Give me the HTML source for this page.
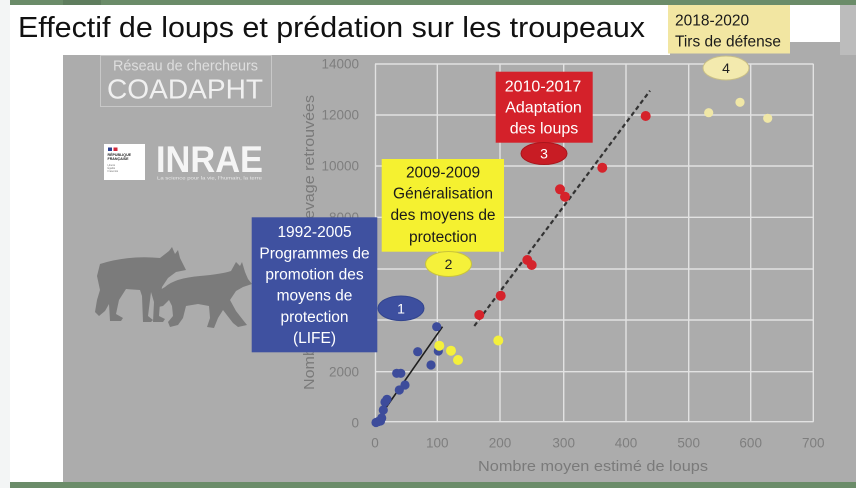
<!DOCTYPE html>
<html><head><meta charset="utf-8"><style>
html,body{margin:0;padding:0;background:#acacac;}
svg{display:block;}
text{font-family:"Liberation Sans",Arial,sans-serif;}
</style></head><body>
<svg width="856" height="488" viewBox="0 0 856 488" xmlns="http://www.w3.org/2000/svg">
<!-- backgrounds -->
<rect x="0" y="0" width="856" height="488" fill="#acacac"/>
<rect x="840" y="5" width="16" height="50" fill="#bcbcbc"/>
<rect x="0" y="0" width="10" height="488" fill="#f3f5f5"/>
<rect x="10" y="5" width="53" height="478" fill="#ffffff"/>
<rect x="10" y="5" width="660" height="50" fill="#ffffff"/>
<rect x="789" y="5" width="51" height="37" fill="#ffffff"/>
<rect x="10" y="0" width="846" height="5" fill="#6b8c69"/>
<rect x="63" y="0" width="38" height="5" fill="#5f7d5e"/>
<rect x="10" y="482" width="846" height="6" fill="#6b8c69"/>

<!-- Title -->
<text x="18" y="37" font-size="29" fill="#111" textLength="627" lengthAdjust="spacingAndGlyphs">Effectif de loups et prédation sur les troupeaux</text>

<!-- COADAPHT logo -->
<rect x="100.5" y="55.5" width="171" height="51" fill="none" stroke="#c8c8c8" stroke-width="1"/>
<text x="113" y="70.5" font-size="14.5" fill="#dedede" textLength="145" lengthAdjust="spacingAndGlyphs">Réseau de chercheurs</text>
<text x="107" y="98.3" font-size="27.5" fill="#f0f0f0" textLength="156" lengthAdjust="spacingAndGlyphs">COADAPHT</text>

<!-- INRAE logo -->
<rect x="104" y="144" width="41" height="36" fill="#ffffff"/>
<rect x="108" y="147.5" width="4" height="3.5" fill="#2b3e8f"/>
<rect x="113.5" y="147.5" width="4" height="3.5" fill="#d0283a"/>
<text x="107.5" y="156" font-size="3.6" font-weight="bold" fill="#222">RÉPUBLIQUE</text>
<text x="107.5" y="160" font-size="3.6" font-weight="bold" fill="#222">FRANÇAISE</text>
<text x="107.5" y="166" font-size="2.5" fill="#777">Liberté</text>
<text x="107.5" y="169" font-size="2.5" fill="#777">Égalité</text>
<text x="107.5" y="172" font-size="2.5" fill="#777">Fraternité</text>
<text x="156" y="172" font-size="37" font-weight="bold" fill="#f5f5f5" textLength="107" lengthAdjust="spacingAndGlyphs">INRAE</text>
<text x="157" y="179.5" font-size="4.8" fill="#e8e8e8" textLength="105" lengthAdjust="spacingAndGlyphs">La science pour la vie, l'humain, la terre</text>

<!-- wolves -->
<g fill="#7b7b7b">
<path d="M100 264 Q128 255 160 258 L169 251 L172 247 L175 254 L178 250 L180 258 L184 266 L186 270 L176 272 L168 278 L162 287 L160 302 L159 316 L165 319 L163 322 L153 322 L154 302 L151 292 L148 316 L153 320 L151 322 L143 322 L142 296 L140 290 L126 289 L119 300 L116 314 L123 318 L121 321 L110 321 L109 304 L105 311 L99 316 L95 312 L97 300 L100 290 L97 276 Z"/>
<path d="M165 287 Q175 278 200 276 Q222 274 231 271 L236 262 L240 266 L242 262 L245 272 L248 279 L252 284 L243 287 L236 291 L230 300 L236 311 L243 320 L247 325 L238 327 L233 323 L223 310 L218 318 L214 328 L207 327 L210 318 L209 306 L198 304 L186 306 L183 318 L178 325 L170 327 L168 322 L173 316 L172 306 L169 300 L163 306 L158 307 L157 298 L160 290 Z"/>
</g>

<!-- gridlines -->
<g stroke="#e2e2e2" stroke-width="1.4">
<line x1="375" y1="64" x2="813.5" y2="64"/>
<line x1="375" y1="115" x2="813.5" y2="115"/>
<line x1="375" y1="166" x2="813.5" y2="166"/>
<line x1="375" y1="217.3" x2="813.5" y2="217.3"/>
<line x1="375" y1="269" x2="813.5" y2="269"/>
<line x1="375" y1="320" x2="813.5" y2="320"/>
<line x1="375" y1="371.7" x2="813.5" y2="371.7"/>
<line x1="375" y1="421.7" x2="813.5" y2="421.7"/>
<line x1="375.5" y1="64" x2="375.5" y2="421.7"/>
<line x1="437.3" y1="64" x2="437.3" y2="421.7"/>
<line x1="500" y1="64" x2="500" y2="421.7"/>
<line x1="563.7" y1="64" x2="563.7" y2="421.7"/>
<line x1="626" y1="64" x2="626" y2="421.7"/>
<line x1="688.7" y1="64" x2="688.7" y2="421.7"/>
<line x1="750.7" y1="64" x2="750.7" y2="421.7"/>
<line x1="813.3" y1="64" x2="813.3" y2="421.7"/>
</g>

<!-- y tick labels -->
<g font-size="13.5" fill="#7e7e7e" text-anchor="end">
<text x="359" y="68.5">14000</text>
<text x="359" y="119.5">12000</text>
<text x="359" y="170.5">10000</text>
<text x="359" y="222">8000</text>
<text x="359" y="376.5">2000</text>
<text x="359" y="427.5">0</text>
</g>
<!-- x tick labels -->
<g font-size="13.5" fill="#7e7e7e" text-anchor="middle">
<text x="375" y="447.5">0</text>
<text x="437.3" y="447.5">100</text>
<text x="500" y="447.5">200</text>
<text x="563.7" y="447.5">300</text>
<text x="626" y="447.5">400</text>
<text x="688.7" y="447.5">500</text>
<text x="750.7" y="447.5">600</text>
<text x="813.3" y="447.5">700</text>
</g>
<text x="593" y="471" font-size="15" fill="#7a7a7a" text-anchor="middle" textLength="230" lengthAdjust="spacingAndGlyphs">Nombre moyen estimé de loups</text>
<text transform="translate(314,390) rotate(-90)" x="0" y="0" font-size="15" fill="#7a7a7a" textLength="295" lengthAdjust="spacingAndGlyphs">Nombre de victimes d'élevage retrouvées</text>

<!-- trend lines -->
<line x1="376" y1="422" x2="442.5" y2="326.7" stroke="#1e1e1e" stroke-width="1.6"/>
<line x1="474.3" y1="326" x2="650" y2="90.7" stroke="#333" stroke-width="2.2" stroke-dasharray="4.5,3"/>

<!-- blue points -->
<g fill="#3d4c9b">
<circle cx="436.7" cy="326.7" r="4.6"/>
<circle cx="417.7" cy="351.7" r="4.6"/>
<circle cx="438.3" cy="351" r="4.6"/>
<circle cx="431" cy="365" r="4.6"/>
<circle cx="396.7" cy="373.3" r="4.6"/>
<circle cx="400.8" cy="373.3" r="4.6"/>
<circle cx="405" cy="385" r="4.6"/>
<circle cx="399.3" cy="390" r="4.6"/>
<circle cx="387" cy="399.3" r="4.6"/>
<circle cx="385" cy="402" r="4.6"/>
<circle cx="383.3" cy="410" r="4.6"/>
<circle cx="381.7" cy="418" r="4.6"/>
<circle cx="378.3" cy="421.5" r="4.6"/>
<circle cx="376" cy="422.5" r="4.6"/>
<circle cx="380.5" cy="421" r="4.6"/>
</g>
<!-- yellow points -->
<g fill="#f4f03c">
<circle cx="439.3" cy="345.7" r="5"/>
<circle cx="451" cy="350.7" r="5"/>
<circle cx="458" cy="360" r="5"/>
<circle cx="498.3" cy="340.5" r="5"/>
</g>
<!-- red points -->
<g fill="#d5232b">
<circle cx="479.3" cy="315" r="5"/>
<circle cx="500.7" cy="295.7" r="5"/>
<circle cx="527.3" cy="260" r="5"/>
<circle cx="531.7" cy="265" r="5"/>
<circle cx="560" cy="189.3" r="5"/>
<circle cx="565" cy="196.7" r="5"/>
<circle cx="602.3" cy="167.7" r="5"/>
<circle cx="645.7" cy="116" r="5"/>
</g>
<!-- pale points -->
<g fill="#f0e7a6">
<circle cx="708.7" cy="112.7" r="4.6"/>
<circle cx="740" cy="102.3" r="4.6"/>
<circle cx="767.7" cy="118.3" r="4.6"/>
</g>

<!-- Box 4 (2018-2020) -->
<rect x="668" y="5" width="122" height="48.5" fill="#f2e6a2"/>
<text x="675" y="25.5" font-size="15.5" fill="#1a1a1a">2018-2020</text>
<text x="675" y="46.5" font-size="15.5" fill="#1a1a1a" textLength="106" lengthAdjust="spacingAndGlyphs">Tirs de défense</text>
<ellipse cx="726" cy="68" rx="23" ry="12" fill="#f3eaae" stroke="#c9bf86" stroke-width="1"/>
<text x="726" y="73" font-size="14" fill="#222" text-anchor="middle">4</text>

<!-- Box 3 (2010-2017) -->
<rect x="495.7" y="71.7" width="97" height="71" fill="#d4212a"/>
<g font-size="16" fill="#ffffff" text-anchor="middle">
<text x="543" y="91.5">2010-2017</text>
<text x="543.5" y="112.5">Adaptation</text>
<text x="544" y="133.5">des loups</text>
</g>
<ellipse cx="544" cy="153.5" rx="23" ry="11" fill="#c81c24" stroke="#a8161c" stroke-width="1"/>
<text x="544" y="158.5" font-size="14" fill="#ffffff" text-anchor="middle">3</text>

<!-- Box 2 (2009-2009) -->
<rect x="381.7" y="159" width="122.3" height="92.7" fill="#f5f130"/>
<g font-size="15.5" fill="#1a1a1a" text-anchor="middle">
<text x="443" y="177.5">2009-2009</text>
<text x="443" y="198.5">Généralisation</text>
<text x="443" y="220">des moyens de</text>
<text x="443" y="242">protection</text>
</g>
<ellipse cx="448.5" cy="264" rx="23" ry="12.5" fill="#f5f13a" stroke="#c9c43a" stroke-width="1"/>
<text x="448.5" y="269" font-size="14" fill="#222" text-anchor="middle">2</text>

<!-- Box 1 (1992-2005) -->
<rect x="251.7" y="217.3" width="125.6" height="135" fill="#3f51a0"/>
<g font-size="15.5" fill="#ffffff" text-anchor="middle">
<text x="314.5" y="237">1992-2005</text>
<text x="314.5" y="258.3">Programmes de</text>
<text x="314.5" y="279.5">promotion des</text>
<text x="314.5" y="300.7">moyens de</text>
<text x="314.5" y="321.9">protection</text>
<text x="314.5" y="343">(LIFE)</text>
</g>
<ellipse cx="401" cy="308.3" rx="23" ry="12.3" fill="#3d4f9f" stroke="#33458e" stroke-width="1"/>
<text x="401" y="313.3" font-size="14" fill="#ffffff" text-anchor="middle">1</text>
</svg>
</body></html>
